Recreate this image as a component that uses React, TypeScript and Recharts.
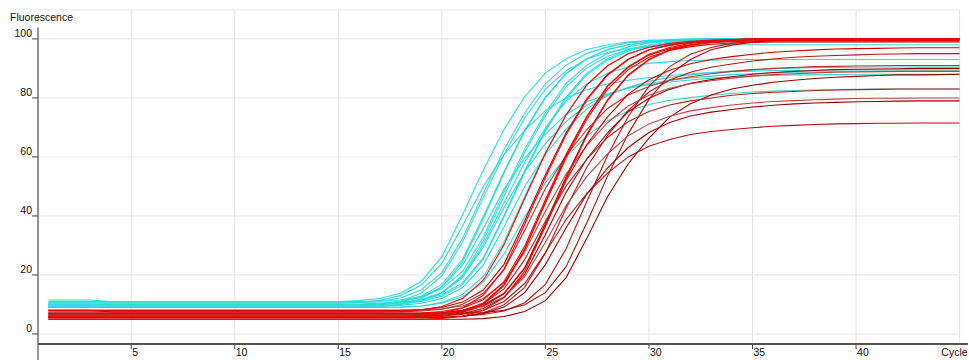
import React from 'react';
import { LineChart, Line, XAxis, YAxis, CartesianGrid, ReferenceLine } from 'recharts';

const cycles = [1,2,3,4,5,6,7,8,9,10,11,12,13,14,15,16,17,18,19,20,21,22,23,24,25,26,27,28,29,30,31,32,33,34,35,36,37,38,39,40,41,42,43,44,45];

// cyan group
const cyan1 = [11,11,11,11,11,11,11,11,11,11,11,11,11,11,11,11.3,12,13.8,17.8,26.1,40.4,55.5,69.3,80.4,88.4,93.3,96.4,98,98.9,99.5,99.7,100,100,100,100,100,100,100,100,100,100,100,100,100,100];
const cyan2 = [10.5,10.5,10.5,10.5,10.5,10.5,10.5,10.5,10.5,10.5,10.5,10.5,10.5,10.5,10.5,10.6,11,12.2,14.9,20.8,32.4,47.6,62.4,74.9,84.8,91.1,95.1,97.3,98.6,99.2,99.6,99.8,100,100,100,100,100,100,100,100,100,100,100,100,100];
const cyan3 = [10,10,10,10,10,10,10,10,10,10,10,10,10,10,10,10,10.3,11,12.8,16.8,25.3,39.7,55,69,80.2,88.3,93.3,96.4,98,98.9,99.5,99.7,100,100,100,100,100,100,100,100,100,100,100,100,100];
const cyan4 = [9,9,9,9,9,9,9,9,9,9,9,9,9,9,9,9,9.3,10,11.9,15.9,24.5,39,54.5,68.7,80,88.2,93.2,96.4,98,98.9,99.5,99.7,100,100,100,100,100,100,100,100,100,100,100,100,100];
const cyan5 = [11.5,11.5,11.5,11,11,11,11,11,11,11,11,11,11,11,11,11,11.1,11.5,12.7,15.3,21.2,32.8,48,62.6,75,84.9,91.1,95.1,97.3,98.6,99.2,99.6,99.8,100,100,100,100,100,100,100,100,100,100,100,100];
const cyan6 = [9.5,9.5,9.5,9.5,9.5,9.5,9.5,9.5,9.5,9.5,9.5,9.5,9.5,9.5,9.5,9.5,9.6,10,11.2,13.9,19.9,31.5,46.7,61.5,74,83.8,90.1,94.1,96.3,97.6,98.2,98.6,98.8,99,99,99,99,99,99,99,99,99,99,99,99];
const cyan7 = [10.5,10.5,10.5,10.5,10.5,10.5,10.5,10.5,10.5,10.5,10.5,10.5,10.5,10.5,10.5,10.5,10.5,10.8,11.5,13.3,17.3,25.8,40.1,55.3,69.2,80.3,88.4,93.3,96.4,98,98.9,99.5,99.7,100,100,100,100,100,100,100,100,100,100,100,100];
const cyan8 = [9,9,9,9,9,9,9,9,9,9,9,9,9,9,9,9,9,9.1,9.5,10.7,13.4,19.4,31.2,46.6,61.6,74.4,84.4,90.8,95,97.2,98.5,99.2,99.6,99.8,100,100,100,100,100,100,100,100,100,100,100];
const cyan9 = [10,10,10,10,10,10,10,10,10,10,10,10,10,10,10,10,10,10.3,11,12.8,16.8,25.3,39.7,54.8,68.7,79.8,87.9,92.8,95.9,97.5,98.4,99,99.2,99.5,99.5,99.5,99.5,99.5,99.5,99.5,99.5,99.5,99.5,99.5,99.5];
const cyan10 = [9.5,9.5,9.5,9.5,9.5,9.5,9.5,9.5,9.5,9.5,9.5,9.5,9.5,9.5,9.5,9.6,10,11.2,13.8,19.7,31.2,46.2,60.8,73.2,83,89.2,93.2,95.4,96.7,97.3,97.6,97.8,98,98,98,98,98,98,98,98,98,98,98,98,98];
const cyan11 = [10,10,10,10,10,10,10,10,10,10,10,10,10,10,10,10,10.1,10.5,11.5,13.9,19.1,29.4,42.8,55,64.5,72,77.5,81.1,83.5,84.9,85.9,86.8,87.4,87.9,88.2,88.5,88.7,88.8,88.9,89,89,89,89,89,89];
const cyan12 = [10,10,10,10,10,10,10,10,10,10,10,10,10,10,10,10,10.2,10.9,12.4,15.9,23.3,35.7,49,59.5,67.7,74.4,78.6,81.4,83.3,84.5,85.4,86.1,86.7,87.1,87.4,87.6,87.8,87.8,87.9,88,88,88,88,88,88];
const cyan13 = [9.5,9.5,9.5,9.5,9.5,9.5,9.5,9.5,9.5,9.5,9.5,9.5,9.5,9.5,9.5,9.5,9.5,9.7,10.4,12,15.7,23.3,36.2,50,60.9,69.4,76.3,80.8,83.6,85.6,86.9,87.8,88.6,89.1,89.5,89.9,90.1,90.3,90.3,90.4,90.5,90.5,90.5,90.5,90.5];
const cyan14 = [10,10,10,10,10,10,10,10,10,10,10,10,10,10,10,10,10.1,10.5,11.6,14.1,19.5,30.3,44.4,58.1,69.8,78.9,84.7,88.4,90.5,91.7,92.3,92.7,92.8,93,93,93,93,93,93,93,93,93,93,93,93];
const cyan15 = [9,9,9,9,9,9,9,9,9,9,9,9,9,9,9,9,9,9.1,9.4,10.4,12.6,17.5,27.1,39.7,51.2,60.1,67.1,72.3,75.6,77.8,79.2,80.1,80.9,81.5,82,82.3,82.5,82.7,82.8,82.9,83,83,83,83,83];
const cyan16 = [10.5,10.5,10.5,10.5,10.5,10.5,10.5,10.5,10.5,10.5,10.5,10.5,10.5,10.5,10.5,10.7,11.4,13,16.5,23.9,36.6,50,60.7,69,75.7,80,82.8,84.8,86,86.9,87.6,88.2,88.6,88.9,89.1,89.3,89.3,89.4,89.5,89.5,89.5,89.5,89.5,89.5,89.5];

// red group
const red1 = [8,8,8,7.5,7.5,7.5,7.5,7.5,7.5,7.5,7.5,7.5,7.5,7.5,7.5,7.5,7.5,7.6,8.1,9.3,12,18.2,30.2,45.9,61.2,74.2,84.4,90.9,95,97.2,98.5,99.2,99.6,99.8,100,100,100,100,100,100,100,100,100,100,100];
const red2 = [6,6,6,6,6,6,6,6,6,6,6,6,6,6,6,6,6,6,6.3,7,8.9,13.1,22,37.1,53,67.5,79.3,87.7,93,96.3,97.9,98.9,99.4,99.7,100,100,100,100,100,100,100,100,100,100,100];
const red3 = [8,8,8,8,8,8,8,8,8,8,8,8,8,8,8,8,8,8,8.3,9,10.8,14.9,23.6,38.4,54,68.2,79.7,88,93.1,96.3,97.9,98.9,99.4,99.7,100,100,100,100,100,100,100,100,100,100,100];
const red4 = [5.5,5.5,5.5,5.5,5.5,5.5,5.5,5.5,5.5,5.5,5.5,5.5,5.5,5.5,5.5,5.5,5.5,5.5,5.6,6.1,7.3,10.1,16.4,28.6,44.6,60.3,73.6,84,90.6,94.8,97.1,98.5,99.2,99.6,99.8,100,100,100,100,100,100,100,100,100,100];
const red5 = [7,7,7,7,7,7,7,7,7,7,7,7,7,7,7,7,7,7,7.1,7.6,8.8,11.6,17.7,29.7,45.5,60.9,73.8,84,90.4,94.5,96.7,98,98.7,99.1,99.3,99.5,99.5,99.5,99.5,99.5,99.5,99.5,99.5,99.5,99.5];
const red6 = [6.5,6.5,6.5,6.5,6.5,6.5,6.5,6.5,6.5,6.5,6.5,6.5,6.5,6.5,6.5,6.5,6.5,6.5,6.5,6.8,7.5,9.4,13.6,22.4,37.4,53.3,67.7,79.4,87.8,93,96.3,97.9,98.9,99.4,99.7,100,100,100,100,100,100,100,100,100,100];
const red7 = [5,5,5,5,5,5,5,5,5,5,5,5,5,5,5,5,5,5,5,5.3,6,8,12.3,21.3,36.5,52.5,67.2,79.1,87.6,92.9,96.2,97.9,98.9,99.4,99.7,100,100,100,100,100,100,100,100,100,100];
const red8 = [6,6,6,6,6,6,6,6,6,6,6,6,6,6,6,6,6,6,6,6,6.1,6.6,7.8,10.6,16.8,28.9,44.9,60.5,73.7,84,90.6,94.8,97.1,98.5,99.2,99.6,99.8,100,100,100,100,100,100,100,100];
const red9 = [7,7,7,7,7,7,7,7,7,7,7,7,7,7,7,7,7,7,7,7,7,7.3,8,9.9,14,22.8,37.7,53.5,67.9,79.5,87.9,93,96.3,97.9,98.9,99.4,99.7,100,100,100,100,100,100,100,100];
const red10 = [6,6,6,6,6,6,6,6,6,6,6,6,6,6,6,6,6,6,6.1,6.6,7.8,10.5,16.7,28.7,44.4,59.7,72.8,83,89.6,93.8,96.1,97.4,98.2,98.6,98.8,99,99,99,99,99,99,99,99,99,99];
const red11 = [7,7,7,7,7,7,7,7,7,7,7,7,7,7,7,7,7,7,7,7.3,8,9.8,13.8,22.3,36.7,52,64.2,73.6,81.3,86.2,89.4,91.6,93,94,94.8,95.5,95.9,96.3,96.6,96.7,96.8,96.9,97,97,97];
const red12 = [5.5,5.5,5.5,5.5,5.5,5.5,5.5,5.5,5.5,5.5,5.5,5.5,5.5,5.5,5.5,5.5,5.5,5.5,5.5,5.6,6,7.2,9.9,15.8,27.4,42.6,56.5,67.3,75.8,82,86.1,88.7,90.4,91.5,92.5,93.2,93.8,94.1,94.4,94.6,94.8,94.9,95,95,95];
const red13 = [7.5,7.5,7.5,7.5,7.5,7.5,7.5,7.5,7.5,7.5,7.5,7.5,7.5,7.5,7.5,7.5,7.5,7.5,7.8,8.4,10.1,13.8,21.7,35.1,49.3,60.5,69.3,76.4,81,83.9,86,87.2,88.2,89,89.6,90,90.3,90.6,90.7,90.8,90.9,91,91,91,91];
const red14 = [6,6,6,6,6,6,6,6,6,6,6,6,6,6,6,6,6,6,6,6.3,6.9,8.6,12.4,20.3,33.7,48,59.3,68.2,75.3,79.9,82.9,85,86.2,87.2,88,88.6,89,89.3,89.6,89.7,89.8,89.9,90,90,90];
const red15 = [8,8,8,8,8,8,8,8,8,8,8,8,8,8,8,8,8,8,8.1,8.5,9.5,12,17.3,27.8,41.6,54.2,63.9,71.6,77.3,80.9,83.3,84.8,85.8,86.7,87.4,87.9,88.2,88.5,88.7,88.8,88.9,89,89,89,89];
const red16 = [5,5,5,5,5,5,5,5,5,5,5,5,5,5,5,5,5,5,5,5,5,5.2,5.9,7.6,11.3,19.1,32.4,46.5,57.7,66.4,73.5,78,81,83,84.3,85.3,86,86.6,87,87.3,87.6,87.8,87.8,87.9,88];
const red17 = [6.5,6.5,6.5,6.5,6.5,6.5,6.5,6.5,6.5,6.5,6.5,6.5,6.5,6.5,6.5,6.5,6.5,6.5,6.6,7,8,10.2,15.3,25.2,38.2,50.1,59.3,66.6,71.9,75.4,77.6,79,80,80.9,81.5,81.9,82.2,82.5,82.7,82.8,82.9,83,83,83,83];
const red18 = [7,7,7,7,7,7,7,7,7,7,7,7,7,7,7,7,7,7,7,7.2,7.8,9.3,12.5,19.4,31.1,43.5,53.4,61,67.2,71.2,73.8,75.6,76.7,77.6,78.3,78.8,79.1,79.4,79.6,79.8,79.9,79.9,80,80,80];
const red19 = [5.5,5.5,5.5,5.5,5.5,5.5,5.5,5.5,5.5,5.5,5.5,5.5,5.5,5.5,5.5,5.5,5.5,5.5,5.5,5.6,5.9,6.9,9.1,14,23.5,36,47.4,56.2,63.2,68.3,71.7,73.9,75.2,76.1,76.9,77.5,78,78.3,78.5,78.7,78.8,78.9,79,79,79];
const red20 = [6,6,6,6,6,6,6,6,6,6,6,6,6,6,6,6,6,6,6,6.2,6.7,8,11,17.1,27.6,38.8,47.6,54.5,60,63.6,65.9,67.6,68.6,69.3,69.9,70.4,70.7,71,71.2,71.3,71.4,71.4,71.5,71.5,71.5];

const cyanSeries = [cyan1, cyan2, cyan3, cyan4, cyan5, cyan6, cyan7, cyan8, cyan9, cyan10, cyan11, cyan12, cyan13, cyan14, cyan15, cyan16];
const redSeries = [red1, red2, red3, red4, red5, red6, red7, red8, red9, red10, red11, red12, red13, red14, red15, red16, red17, red18, red19, red20];

const cyanColors = ['#27dede', '#3ad6d6', '#22e2e2', '#2fd8d8', '#1fe4e4', '#44d4d4', '#27dede', '#33dada', '#22e0e0', '#3cd8d8', '#3ccfcf', '#2ed6d6', '#35d2d2', '#2adcdc', '#3fd0d0', '#30d8d8'];
const redColors = ['#ff0000', '#f80000', '#c00000', '#ff0000', '#e80000', '#b00000', '#ff0000', '#c41010', '#a81010', '#f40000', '#d00000', '#b01818', '#b83030', '#a80000', '#c04040', '#980000', '#b02020', '#b84848', '#a00000', '#b01010'];
// drawing order of the red series: darker ones first, bright ones on top
const redOrder = [5, 7, 8, 11, 12, 13, 14, 15, 16, 17, 18, 19, 2, 10, 4, 9, 1, 3, 6, 0];

const xTicks = [5, 10, 15, 20, 25, 30, 35, 40, 45];
const yTicks = [0, 20, 40, 60, 80, 100];

const FONT = '"Liberation Sans", Arial, sans-serif';

const data = cycles.map((c, i) => {
  const row: Record<string, number> = { cycle: c };
  cyanSeries.forEach((s, k) => { row['c' + k] = s[i]; });
  redSeries.forEach((s, k) => { row['r' + k] = s[i]; });
  return row;
});

const XTick = (props: any) => {
  const { x, y, payload } = props;
  if (payload.value === 45) {
    return (
      <text x={x + 8} y={y + 12} textAnchor="end" fontSize={10.5} fontFamily={FONT} fill="#111">Cycle</text>
    );
  }
  return (
    <g>
      <line x1={x} y1={y + 1} x2={x} y2={y + 5} stroke="#444" strokeWidth={1} />
      <text x={x + 1} y={y + 12} textAnchor="start" fontSize={10.5} fontFamily={FONT} fill="#111">{payload.value}</text>
    </g>
  );
};

const YTick = (props: any) => {
  const { x, y, payload } = props;
  return (
    <g>
      <line x1={x - 6} y1={y} x2={x} y2={y} stroke="#444" strokeWidth={1} />
      <text x={x - 6} y={y - 1.5} textAnchor="end" fontSize={10.5} fontFamily={FONT} fill="#111">{payload.value}</text>
    </g>
  );
};

export default function App() {
  return (
    <div style={{ position: 'absolute', left: 0, top: 0, width: 969, height: 360, background: '#fff' }}>
      <LineChart width={969} height={360} data={data} margin={{ top: 10, right: 9.4, bottom: 0, left: 0 }}>
        <CartesianGrid stroke="#e4e4e4" strokeWidth={1} />
        <XAxis
          dataKey="cycle"
          type="number"
          domain={[0.5, 45]}
          ticks={xTicks}
          interval={0}
          height={16}
          axisLine={false}
          tickLine={false}
          tickSize={0}
          tickMargin={0}
          tick={<XTick />}
        />
        <YAxis
          type="number"
          domain={[-3.4, 109.8]}
          ticks={yTicks}
          interval={0}
          width={38}
          axisLine={false}
          tickLine={false}
          tickSize={0}
          tickMargin={0}
          tick={<YTick />}
        />
        {cyanSeries.map((_, k) => (
          <Line key={'c' + k} dataKey={'c' + k} type="linear" stroke={cyanColors[k]} strokeWidth={1.1} dot={false} activeDot={false} isAnimationActive={false} />
        ))}
        {redOrder.map((k) => (
          <Line key={'r' + k} dataKey={'r' + k} type="linear" stroke={redColors[k]} strokeWidth={1.1} dot={false} activeDot={false} isAnimationActive={false} />
        ))}
        <ReferenceLine segment={[{ x: 0.5, y: -3.4 }, { x: 45.4, y: -3.4 }]} stroke="#555" strokeWidth={2} ifOverflow="visible" />
        <ReferenceLine segment={[{ x: 0.5, y: -8.9 }, { x: 0.5, y: 103.8 }]} stroke="#555" strokeWidth={1.2} ifOverflow="visible" />
      </LineChart>
      <svg width={969} height={360} style={{ position: 'absolute', left: 0, top: 0, pointerEvents: 'none' }}>
        <text x={10} y={20.5} fontSize={10.5} fontFamily={FONT} fill="#111">Fluorescence</text>
      </svg>
    </div>
  );
}
